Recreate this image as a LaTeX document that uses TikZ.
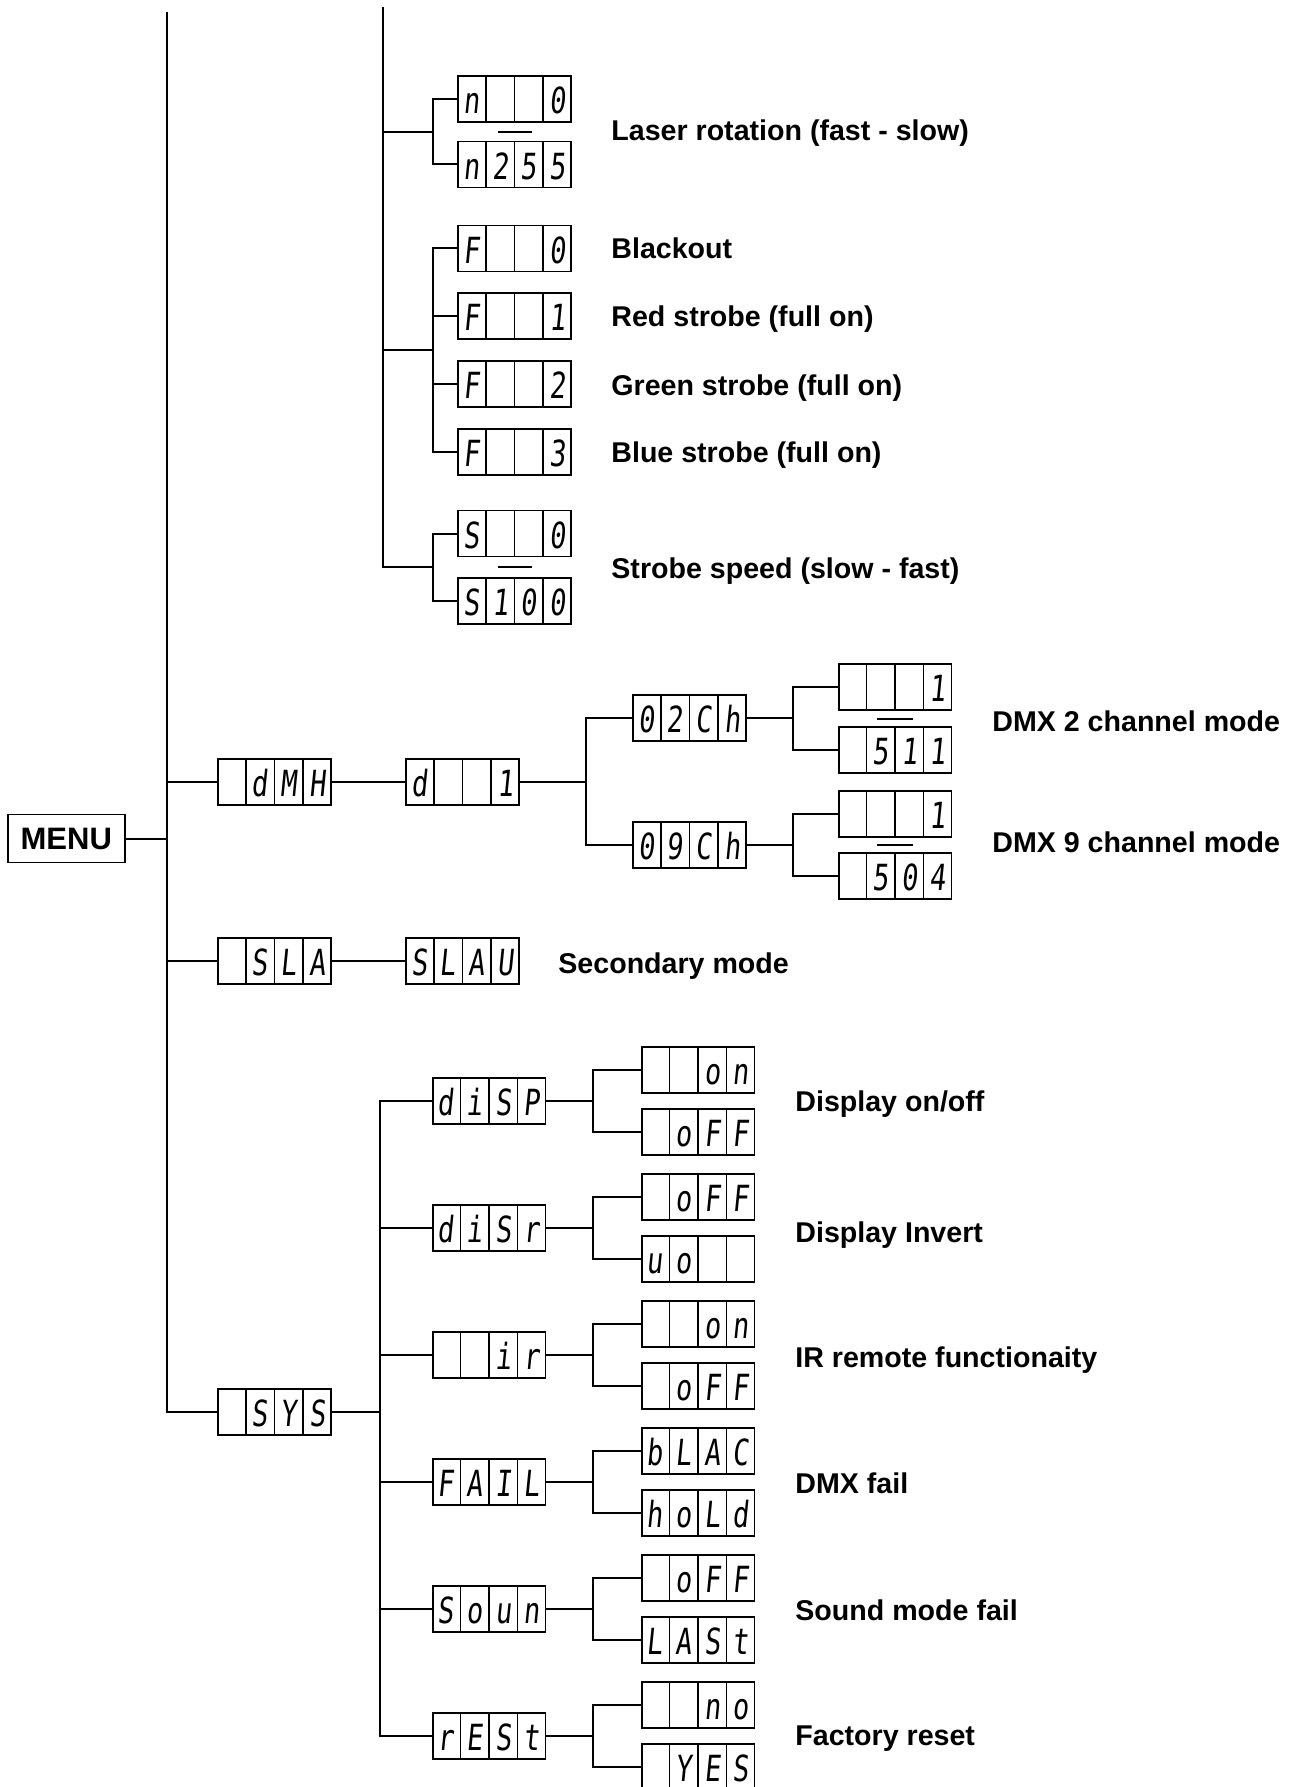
\documentclass[tikz,border=0pt]{standalone}
\usepackage{fontspec}
\setmainfont{Liberation Sans}
\newfontfamily\segfont[FakeSlant=0.1,FakeStretch=0.75]{DejaVu Sans Mono}
\usetikzlibrary{calc}

\newcommand\segcell[1]{\makebox[13.5pt]{#1}}
\newcommand\segrow[4]{\rule[-4.2pt]{0pt}{23pt}\segcell{#1}\vrule width 0.8pt\segcell{#2}\vrule width 0.8pt\segcell{#3}\vrule width 0.8pt\segcell{#4}}

\begin{document}
\begin{tikzpicture}[x=0.5pt,y=-0.5pt,line join=miter,
  lcd/.style={draw,line width=0.9pt,inner sep=0pt,outer sep=0pt,font=\segfont\fontsize{18}{18}\selectfont},
  lbl/.style={anchor=base west,inner sep=0pt,font=\bfseries\fontsize{14.3}{17}\selectfont},
  wire/.style={line width=1pt}]
  \useasboundingbox (0,0) rectangle (1296,1787);
  % trunks coming in from above
  \coordinate (ttop) at (167,12);
  \coordinate (utop) at (383,7);

  % laser rotation / strobe
  \node[lcd] (na) at (514.5,98.7) {\segrow{n}{}{}{0}};
  \node[lcd] (nb) at (514.5,164.5) {\segrow{n}{2}{5}{5}};
  \node[lcd] (fa) at (514.5,248.5) {\segrow{F}{}{}{0}};
  \node[lcd] (fb) at (514.5,316) {\segrow{F}{}{}{1}};
  \node[lcd] (fc) at (514.5,384) {\segrow{F}{}{}{2}};
  \node[lcd] (fd) at (514.5,452) {\segrow{F}{}{}{3}};
  \node[lcd] (sa) at (514.5,533.5) {\segrow{S}{}{}{0}};
  \node[lcd] (sb) at (514.5,601) {\segrow{S}{1}{0}{0}};
  \coordinate (nj) at ($(na.west)!0.5!(nb.west)+(-25,0)$);
  \coordinate (fj) at ($(fa.west)!0.5!(fd.west)+(-25,0)$);
  \coordinate (sj) at ($(sa.west)!0.5!(sb.west)+(-25,0)$);
  \draw[wire] (utop) -- (utop |- sj) -- (sj);
  \draw[wire] (utop |- nj) -- (nj);
  \draw[wire] (utop |- fj) -- (fj);
  \draw[wire] (na.west) -- ++(-25,0) |- (nb.west);
  \draw[wire] (fa.west) -- ++(-25,0) |- (fd.west);
  \draw[wire] (fb.west) -- ++(-25,0);
  \draw[wire] (fc.west) -- ++(-25,0);
  \draw[wire] (sa.west) -- ++(-25,0) |- (sb.west);
  \draw[wire] ($(na.south)!0.5!(nb.north)$) +(-17,0) -- +(17,0);
  \draw[wire] ($(sa.south)!0.5!(sb.north)$) +(-17,0) -- +(17,0);
  \node[lbl] (lrot) at (611,141) {Laser rotation (fast - slow)};
  \node[lbl] (lblk) at (611,258) {Blackout};
  \node[lbl] (lred) at (611,326) {Red strobe (full on)};
  \node[lbl] (lgrn) at (611,395) {Green strobe (full on)};
  \node[lbl] (lblu) at (611,462) {Blue strobe (full on)};
  \node[lbl] (lstr) at (611,578) {Strobe speed (slow - fast)};

  % menu and dmx
  \node[draw,line width=0.9pt,minimum width=58.5pt,minimum height=24pt,inner sep=0pt,
    font=\bfseries\fontsize{15.5}{16}\selectfont] (menu) at (66.3,838.5) {MENU};
  \node[lcd] (dmx) at (274.3,782) {\segrow{}{d}{M}{H}};
  \node[lcd] (dmxd) at (462.3,782) {\segrow{d}{}{}{1}};
  \node[lcd] (ch2) at (689.3,718) {\segrow{0}{2}{C}{h}};
  \node[lcd] (ch9) at (689.3,845) {\segrow{0}{9}{C}{h}};
  \node[lcd] (ch2a) at (895,687) {\segrow{}{}{}{1}};
  \node[lcd] (ch2b) at (895,750) {\segrow{}{5}{1}{1}};
  \node[lcd] (ch9a) at (895,814) {\segrow{}{}{}{1}};
  \node[lcd] (ch9b) at (895,876) {\segrow{}{5}{0}{4}};
  \node[lcd] (sla) at (274.3,961) {\segrow{}{S}{L}{A}};
  \node[lcd] (slau) at (462.3,961) {\segrow{S}{L}{A}{U}};
  \node[lcd] (sys) at (274.3,1412) {\segrow{}{S}{Y}{S}};
  \draw[wire] (ttop) -- (ttop |- sys.west) -- (sys.west);
  \draw[wire] (menu.east) -- (ttop |- menu.east);
  \draw[wire] (ttop |- dmx.west) -- (dmx.west);
  \draw[wire] (ttop |- sla.west) -- (sla.west);
  \draw[wire] (dmx.east) -- (dmxd.west);
  \draw[wire] (sla.east) -- (slau.west);
  \draw[wire] (dmxd.east) -- ++(67,0) coordinate (dj);
  \draw[wire] (ch2.west) -| (dj) |- (ch9.west);
  \draw[wire] (ch2.east) -- ++(47.5,0) coordinate (c2j);
  \draw[wire] (ch2a.west) -| (c2j) |- (ch2b.west);
  \draw[wire] (ch9.east) -- ++(47.5,0) coordinate (c9j);
  \draw[wire] (ch9a.west) -| (c9j) |- (ch9b.west);
  \draw[wire] ($(ch2a.south)!0.5!(ch2b.north)$) +(-18,0) -- +(18,0);
  \draw[wire] ($(ch9a.south)!0.5!(ch9b.north)$) +(-18,0) -- +(18,0);
  \node[lbl] (ldmx2) at (992,731.7) {DMX 2 channel mode};
  \node[lbl] (ldmx9) at (992,852) {DMX 9 channel mode};
  \node[lbl] (lsec) at (558,973) {Secondary mode};

  % system menu
  \node[lcd] (disp) at (489,1101) {\segrow{d}{i}{S}{P}};
  \node[lcd] (dsr) at (489,1228) {\segrow{d}{i}{S}{r}};
  \node[lcd] (irr) at (489,1355) {\segrow{}{}{i}{r}};
  \node[lcd] (fail) at (489,1482) {\segrow{F}{A}{I}{L}};
  \node[lcd] (soun) at (489,1609) {\segrow{S}{o}{u}{n}};
  \node[lcd] (rst) at (489,1736) {\segrow{r}{E}{S}{t}};
  \draw[wire] (sys.east) -- ++(49,0) coordinate (yj);
  \draw[wire] (disp.west) -| (yj |- rst.west) -- (rst.west);
  \draw[wire] (yj |- dsr.west) -- (dsr.west);
  \draw[wire] (yj |- irr.west) -- (irr.west);
  \draw[wire] (yj |- fail.west) -- (fail.west);
  \draw[wire] (yj |- soun.west) -- (soun.west);

  \node[lcd] (dispa) at (698,1070) {\segrow{}{}{o}{n}};
  \node[lcd] (dispb) at (698,1132) {\segrow{}{o}{F}{F}};
  \node[lcd] (dsra) at (698,1197) {\segrow{}{o}{F}{F}};
  \node[lcd] (dsrb) at (698,1259) {\segrow{u}{o}{}{}};
  \node[lcd] (irra) at (698,1324) {\segrow{}{}{o}{n}};
  \node[lcd] (irrb) at (698,1386) {\segrow{}{o}{F}{F}};
  \node[lcd] (faila) at (698,1451) {\segrow{b}{L}{A}{C}};
  \node[lcd] (failb) at (698,1513) {\segrow{h}{o}{L}{d}};
  \node[lcd] (souna) at (698,1578) {\segrow{}{o}{F}{F}};
  \node[lcd] (sounb) at (698,1640) {\segrow{L}{A}{S}{t}};
  \node[lcd] (rsta) at (698,1705) {\segrow{}{}{n}{o}};
  \node[lcd] (rstb) at (698,1767) {\segrow{}{Y}{E}{S}};
  \draw[wire] (disp.east) -- ++(47.5,0) coordinate (dpj);
  \draw[wire] (dispa.west) -| (dpj) |- (dispb.west);
  \draw[wire] (dsr.east) -- ++(47.5,0) coordinate (drj);
  \draw[wire] (dsra.west) -| (drj) |- (dsrb.west);
  \draw[wire] (irr.east) -- ++(47.5,0) coordinate (irj);
  \draw[wire] (irra.west) -| (irj) |- (irrb.west);
  \draw[wire] (fail.east) -- ++(47.5,0) coordinate (flj);
  \draw[wire] (faila.west) -| (flj) |- (failb.west);
  \draw[wire] (soun.east) -- ++(47.5,0) coordinate (snj);
  \draw[wire] (souna.west) -| (snj) |- (sounb.west);
  \draw[wire] (rst.east) -- ++(47.5,0) coordinate (rsj);
  \draw[wire] (rsta.west) -| (rsj) |- (rstb.west);
  \node[lbl] (ldon) at (795,1111) {Display on/off};
  \node[lbl] (ldinv) at (795,1242) {Display Invert};
  \node[lbl] (lir) at (795,1367) {IR remote functionaity};
  \node[lbl] (lfail) at (795,1493) {DMX fail};
  \node[lbl] (lsnd) at (795,1620) {Sound mode fail};
  \node[lbl] (lrst) at (795,1745) {Factory reset};
\end{tikzpicture}
\end{document}
